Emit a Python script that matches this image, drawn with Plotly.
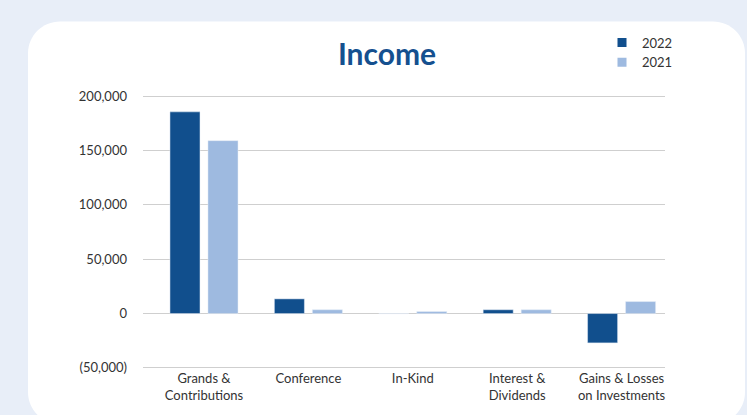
import plotly.graph_objects as go

categories = ["Grands &<br>Contributions", "Conference", "In-Kind", "Interest &<br>Dividends", "Gains & Losses<br>on Investments"]
values_2022 = [185500, 13500, 0, 3500, -27000]
values_2021 = [159000, 3500, 1800, 3500, 11000]
tick_vals = [-50000, 0, 50000, 100000, 150000, 200000]
tick_text = ["(50,000)", "0", "50,000", "100,000", "150,000", "200,000"]

DARK = "#114F8D"
LIGHT = "#9EBAE0"
BG = "#E8EEF8"
GRID = "#CFCFCF"
FONT = "Lato"

W, H = 747, 415
Y_LO, Y_HI = -51000, 201000
# pixel rows for 200,000 and -50,000 gridlines in the reference
PY_200, PY_M50 = 96.0, 369.5
ppu = (PY_M50 - PY_200) / 250000.0
MT = PY_200 - (Y_HI - 200000) * ppu
MB = H - (PY_M50 + (-50000 - Y_LO) * ppu)
ML, MR = 143, 82
PW = W - ML - MR
PH = H - MT - MB
CAT_W = PW / 5.0
X0 = -0.5 - (60.0 - 2.0) / CAT_W + 0.5  # first category center near x=204


def px2paper(px, py):
    return (px - ML) / PW, (H - MB - py) / PH


def card_path(x0, y0, x1, y1, r):
    def P(x, y):
        a, b = px2paper(x, y)
        return f"{a:.5f},{b:.5f}"
    k = 0.5523 * r
    s = f"M {P(x0 + r, y0)} L {P(x1 - r, y0)} "
    s += f"C {P(x1 - r + k, y0)} {P(x1, y0 + r - k)} {P(x1, y0 + r)} "
    s += f"L {P(x1, y1 - r)} "
    s += f"C {P(x1, y1 - r + k)} {P(x1 - r + k, y1)} {P(x1 - r, y1)} "
    s += f"L {P(x0 + r, y1)} "
    s += f"C {P(x0 + r - k, y1)} {P(x0, y1 - r + k)} {P(x0, y1 - r)} "
    s += f"L {P(x0, y0 + r)} "
    s += f"C {P(x0, y0 + r - k)} {P(x0 + r - k, y0)} {P(x0 + r, y0)} Z"
    return s


fig = go.Figure()
fig.add_trace(go.Bar(x=categories, y=values_2022, name="2022", marker_color=DARK, showlegend=False))
fig.add_trace(go.Bar(x=categories, y=values_2021, name="2021", marker_color=LIGHT, showlegend=False))
# legend entries with small square markers
fig.add_trace(go.Scatter(x=[None], y=[None], mode="markers", name="2022",
                         marker=dict(symbol="square", size=9, color=DARK)))
fig.add_trace(go.Scatter(x=[None], y=[None], mode="markers", name="2021",
                         marker=dict(symbol="square", size=9, color=LIGHT)))

fig.add_shape(type="path", xref="paper", yref="paper", layer="below",
              path=card_path(28, 21, 745, 426, 32),
              fillcolor="white", line=dict(width=0))

x_lo = -0.5 - 2.0 / CAT_W - 0.065
fig.update_layout(
    width=W, height=H,
    margin=dict(l=ML, r=MR, t=MT, b=MB),
    paper_bgcolor=BG,
    plot_bgcolor="rgba(0,0,0,0)",
    barmode="group",
    bargap=0.272,
    bargroupgap=0.21,
    font=dict(family=FONT, size=13, color="#333333"),
    title=dict(text="<b>Income</b>", font=dict(family=FONT, size=30, color="#15508F"),
               x=387 / W, xanchor="center", xref="container",
               y=1 - 54 / H, yanchor="middle", yref="container"),
    legend=dict(x=px2paper(602, 0)[0], xanchor="left", y=px2paper(0, 27)[1], yanchor="top",
                font=dict(family=FONT, size=13, color="#333333"),
                bgcolor="rgba(0,0,0,0)", tracegroupgap=0, itemwidth=30),
    showlegend=True,
)
fig.update_xaxes(range=[x_lo, x_lo + 5], showgrid=False, zeroline=False, showline=False,
                 ticks="", tickfont=dict(family=FONT, size=13, color="#333333"), fixedrange=True)
fig.update_yaxes(range=[Y_LO, Y_HI], tickvals=tick_vals, ticktext=tick_text,
                 showgrid=True, gridcolor=GRID, gridwidth=1.3,
                 zeroline=True, zerolinecolor=GRID, zerolinewidth=1.3,
                 showline=False, ticks="", ticklabelstandoff=15,
                 tickfont=dict(family=FONT, size=13, color="#333333"), fixedrange=True)

fig.write_html("out.html", config={"displayModeBar": False},
               post_script="document.body.style.margin='0';document.body.style.background='" + BG + "';")
